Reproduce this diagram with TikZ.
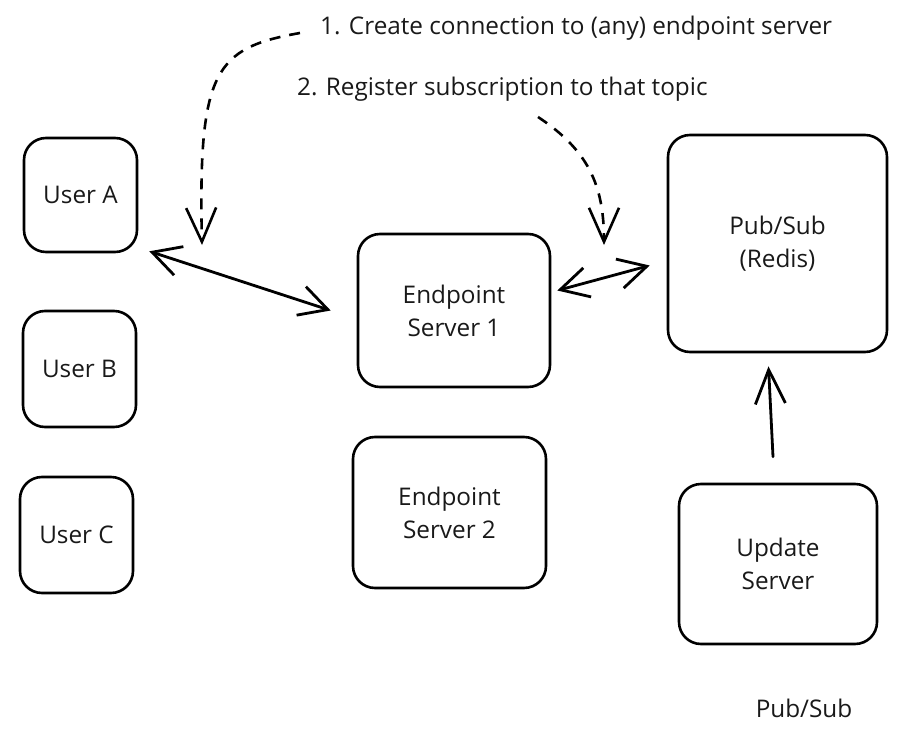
\documentclass[tikz,border=0pt]{standalone}
\usepackage{fontspec}
\setmainfont{Open Sans}
\usetikzlibrary{arrows.meta}

\begin{document}
\begin{tikzpicture}[
    x=1pt, y=-1pt,
    every node/.style={align=center, font=\fontsize{24.3}{33}\selectfont, text=black!90},
    box/.style={draw, line width=2.6pt, rounded corners=22pt, inner sep=0pt},
    double arrow/.style={draw, line width=2.8pt, line cap=round, line join=round, {Straight Barb[length=28pt,width=30pt]}-{Straight Barb[length=28pt,width=30pt]}},
    single arrow/.style={draw, line width=2.8pt, line cap=round, line join=round, -{Straight Barb[length=34pt,width=30pt]}},
    dashed arrow/.style={draw, line width=2.6pt, dash pattern=on 11pt off 9pt, line join=round, -{Straight Barb[length=34pt,width=30pt]}},
    ]
\useasboundingbox (0,0) rectangle (910,746);
\node[box, minimum width=113pt, minimum height=114pt] (userA) at (80.5,195) {\raisebox{-4pt}{User A}};
\node[box, minimum width=113pt, minimum height=116pt] (userB) at (79.5,369) {\raisebox{-3pt}{User B}};
\node[box, minimum width=113pt, minimum height=116pt] (userC) at (76.5,535) {\raisebox{-3pt}{User C}};
\node[box, minimum width=192pt, minimum height=153pt] (es1) at (454,310.5) {Endpoint\\Server 1};
\node[box, minimum width=193pt, minimum height=151pt] (es2) at (449.5,512.5) {Endpoint\\Server 2};
\node[box, minimum width=219pt, minimum height=217pt] (redis) at (777.5,243.5) {Pub/Sub\\(Redis)};
\node[box, minimum width=198pt, minimum height=160pt] (update) at (778,564) {Update\\Server};
\node[anchor=west, inner sep=2pt] (step1) at (318,28) {1. Create connection to (any) endpoint server};
\node[anchor=west, inner sep=2pt] (step2) at (295,89) {2. Register subscription to that topic};
\node[inner sep=2pt] (caption) at (804,708) {Pub/Sub};
\coordinate (tip1) at (202,245);
\coordinate (tip2) at (604,245);
% connections
\draw[double arrow] ([shift={(11,-2)}]userA.south east) -- ([shift={(-26,0)}]es1.west);
\draw[double arrow] ([shift={(6,-20)}]es1.east) -- ([shift={(-17,22)}]redis.west);
\draw[single arrow] ([shift={(-5,-26)}]update.north) -- ([shift={(-9,13)}]redis.south);
% subscription steps
\draw[dashed arrow] ([shift={(-18,5)}]step1.west) .. controls (215,48) and (198,70) .. (tip1);
\draw[dashed arrow] ([shift={(243,28)}]step2.west) .. controls (588,150) and (604,185) .. (tip2);
\end{tikzpicture}
\end{document}
